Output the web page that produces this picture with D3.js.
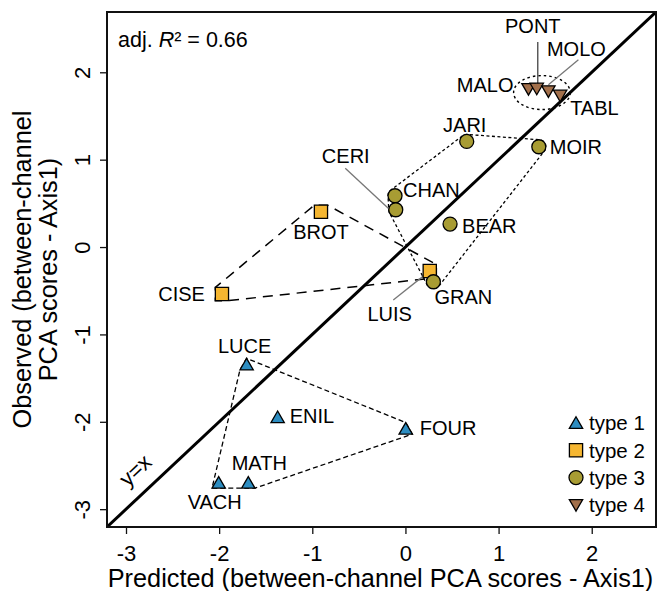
<!DOCTYPE html>
<html>
<head>
<meta charset="utf-8">
<script src="https://cdn.jsdelivr.net/npm/d3@7"></script>
<style>
  html, body { margin: 0; padding: 0; background: #fff; }
  svg { display: block; font-family: "Liberation Sans", Arial, sans-serif; }
</style>
</head>
<body>
<svg id="chart" width="657" height="591"></svg>
<script>
// ---------------- data ----------------
const sites     = ["LUCE","ENIL","FOUR","MATH","VACH","BROT","CISE","LUIS","JARI","MOIR","CHAN","CERI","BEAR","GRAN","MALO","PONT","MOLO","TABL"];
const predicted = [-1.705,-1.372, 0.003,-1.687,-2.005,-0.907,-1.970, 0.261, 0.658, 1.432,-0.112,-0.104, 0.479, 0.300, 1.321, 1.410, 1.535, 1.661];
const observed  = [-1.362,-1.965,-2.097,-2.715,-2.715, 0.404,-0.538,-0.275, 1.209, 1.148, 0.587, 0.427, 0.263,-0.397, 1.826, 1.831, 1.801, 1.751];
const siteType  = [1,1,1,1,1, 2,2,2, 3,3,3,3,3,3, 4,4,4,4];
const typeNames = ["type 1","type 2","type 3","type 4"];
const xTicks = [-3,-2,-1,0,1,2];
const yTicks = [-3,-2,-1,0,1,2];
const axisDomain = [-3.204, 2.69];
const adjR2 = "0.66";
const xTitle = "Predicted (between-channel PCA scores - Axis1)";
const yTitleLines = ["Observed (between-channel", "PCA scores - Axis1)"];

// ---------------- styles / layout ----------------
const typeFill = {1:"#2D8DC1", 2:"#F5B631", 3:"#A89C33", 4:"#A3704B"};
const hullDash = {1:"5,3", 2:"10,7", 3:"3,2.5"};
const hullWidth = {1:1.3, 2:1.5, 3:1.3};
// label placement: [dx, dy, anchor] in px relative to the marker
const labelPos = {
  LUCE:[-2,-20,"middle"], ENIL:[12,-2.5,"start"], FOUR:[14,-2,"start"], MATH:[11,-21,"middle"], VACH:[-4,18,"middle"],
  BROT:[0,20.5,"middle"], CISE:[-17,0,"end"], LUIS:[-40,43,"middle"],
  JARI:[-2,-16.5,"middle"], MOIR:[11,0,"start"], CHAN:[8,-5.5,"start"], CERI:[-50,-54,"middle"], BEAR:[12,1.5,"start"], GRAN:[1,15.5,"start"],
  MALO:[-15,-2.5,"end"], PONT:[-4,-61,"middle"], MOLO:[28,-40.5,"middle"], TABL:[10,13.5,"start"]
};
// leader segments [x1,y1,x2,y2,color] relative to the marker
const leaders = {
  PONT:[1,-45,1,-3,"#444"], MOLO:[30,-30,0,-5,"#777"],
  CERI:[-50.5,-41.5,-7.5,-1.5,"#777"], LUIS:[-36.5,29,-3,2.3,"#777"]
};

const W = 657, H = 591;
const L = 107, R = 656, T = 12, B = 527;
const svg = d3.select("#chart");

const x = d3.scaleLinear().domain(axisDomain).range([L, R]);
const y = d3.scaleLinear().domain(axisDomain).range([B, T]);

const data = sites.map((s,i)=>({name:s, px:predicted[i], ob:observed[i], type:siteType[i]}));

// marker geometry
const TR = 7.7, SQ = 6.6, CR = 7;
function outline(type, cx, cy){
  if(type===1) return [[cx,cy-TR],[cx+0.866*TR,cy+TR/2],[cx-0.866*TR,cy+TR/2]];
  if(type===4) return [[cx,cy+TR],[cx+0.866*TR,cy-TR/2],[cx-0.866*TR,cy-TR/2]];
  if(type===2) return [[cx-SQ,cy-SQ],[cx+SQ,cy-SQ],[cx+SQ,cy+SQ],[cx-SQ,cy+SQ]];
  const pts=[]; for(let k=0;k<32;k++){const a=k/32*2*Math.PI; pts.push([cx+CR*Math.cos(a), cy+CR*Math.sin(a)]);} return pts;
}
function markerPath(type, cx, cy){
  if(type===3) return null;
  const p = outline(type,cx,cy);
  return "M"+p.map(d=>d.join(",")).join("L")+"Z";
}

// clip for plot region
svg.append("defs").append("clipPath").attr("id","clip")
  .append("rect").attr("x",L).attr("y",T).attr("width",R-L).attr("height",B-T);

// y = x line
svg.append("line")
  .attr("clip-path","url(#clip)")
  .attr("x1",x(axisDomain[0])).attr("y1",y(axisDomain[0]))
  .attr("x2",x(axisDomain[1])).attr("y2",y(axisDomain[1]))
  .attr("stroke","#000").attr("stroke-width",3);

// hulls
[1,2,3].forEach(t=>{
  const pts = [];
  data.filter(d=>d.type===t).forEach(d=>outline(t, x(d.px), y(d.ob)).forEach(p=>pts.push(p)));
  const hull = d3.polygonHull(pts);
  svg.append("path")
    .attr("d","M"+hull.map(p=>p.join(",")).join("L")+"Z")
    .attr("fill","none").attr("stroke","#000")
    .attr("stroke-width",hullWidth[t]).attr("stroke-dasharray",hullDash[t]);
});
// type 4 ellipse
{
  const g4 = data.filter(d=>d.type===4);
  const xs = g4.map(d=>x(d.px)), ys = g4.map(d=>y(d.ob));
  const cx = d3.mean(xs) - 1.5, cy = d3.mean(ys) + 3;
  const rx = (d3.max(xs)-d3.min(xs))/2 + 12.5, ry = (d3.max(ys)-d3.min(ys))/2 + 13.5;
  svg.append("ellipse").attr("cx",cx).attr("cy",cy).attr("rx",rx).attr("ry",ry)
    .attr("fill","none").attr("stroke","#000").attr("stroke-width",1.4).attr("stroke-dasharray","2.5,3");
}

// leaders
data.forEach(d=>{
  const l = leaders[d.name]; if(!l) return;
  const cx = x(d.px), cy = y(d.ob);
  svg.append("line").attr("x1",cx+l[0]).attr("y1",cy+l[1]).attr("x2",cx+l[2]).attr("y2",cy+l[3])
    .attr("stroke",l[4]).attr("stroke-width",1.3);
});

// markers
function drawMarker(sel, type, cx, cy){
  if(type===3){
    sel.append("circle").attr("cx",cx).attr("cy",cy).attr("r",CR)
      .attr("fill",typeFill[3]).attr("stroke","#000").attr("stroke-width",1.3);
  } else {
    sel.append("path").attr("d",markerPath(type,cx,cy))
      .attr("fill",typeFill[type]).attr("stroke","#000").attr("stroke-width",1.3).attr("stroke-linejoin","miter");
  }
}
data.forEach(d=>drawMarker(svg, d.type, x(d.px), y(d.ob)));

// point labels
data.forEach(d=>{
  const lp = labelPos[d.name];
  svg.append("text").attr("x",x(d.px)+lp[0]).attr("y",y(d.ob)+lp[1])
    .attr("dy","0.36em").attr("text-anchor",lp[2])
    .attr("font-size",20).attr("fill","#000").text(d.name);
});

// box
svg.append("rect").attr("x",L).attr("y",T).attr("width",R-L).attr("height",B-T)
  .attr("fill","none").attr("stroke","#111").attr("stroke-width",2);

// axes
const xAxis = svg.append("g").attr("transform",`translate(0,${B})`)
  .call(d3.axisBottom(x).tickValues(xTicks).tickSize(7).tickFormat(d3.format("d")));
xAxis.select(".domain").remove();
xAxis.selectAll("line").attr("stroke","#111").attr("stroke-width",1.3);
xAxis.selectAll("text").attr("y",26).attr("dy","0.36em").attr("font-size",22)
  .attr("font-family","Liberation Sans, Arial, sans-serif").attr("fill","#000")
  .text(d=>d<0 ? "-"+Math.abs(d) : d);

const yAxis = svg.append("g").attr("transform",`translate(${L},0)`)
  .call(d3.axisLeft(y).tickValues(yTicks).tickSize(7));
yAxis.select(".domain").remove();
yAxis.selectAll("line").attr("stroke","#111").attr("stroke-width",1.3);
yAxis.selectAll("text").attr("x",null).attr("y",null).attr("dy","0.36em")
  .attr("transform","translate(-25,0) rotate(-90)").attr("text-anchor","middle")
  .attr("font-size",22).attr("font-family","Liberation Sans, Arial, sans-serif").attr("fill","#000")
  .text(d=>d<0 ? "-"+Math.abs(d) : d);

// axis titles
svg.append("text").attr("x",(L+R)/2 - 1).attr("y",578).attr("dy","0.36em")
  .attr("text-anchor","middle").attr("font-size",25.3).attr("fill","#000").text(xTitle);
yTitleLines.forEach((t,i)=>{
  svg.append("text").attr("transform",`translate(${22+i*26},${(T+B)/2}) rotate(-90)`)
    .attr("dy","0.36em").attr("text-anchor","middle").attr("font-size",25.3).attr("fill","#000").text(t);
});

// adj R2
const r2 = svg.append("text").attr("x",118).attr("y",47).attr("font-size",21.5).attr("fill","#000")
  .attr("xml:space","preserve").style("white-space","pre");
r2.append("tspan").text("adj. ");
r2.append("tspan").attr("font-style","italic").text("R");
r2.append("tspan").text("\u00B2");
r2.append("tspan").attr("dx",6).text("=");
r2.append("tspan").attr("dx",6).text(adjR2);

// y=x label
{
  const ang = Math.atan2(y(0)-y(1), x(1)-x(0)) * 180/Math.PI;
  svg.append("text").attr("transform",`translate(135,470) rotate(${-ang})`)
    .attr("dy","0.36em").attr("text-anchor","middle").attr("font-size",22).attr("fill","#000").text("y=x");
}

// legend
typeNames.forEach((t,i)=>{
  const ly = 423 + i*27.3;
  drawMarker(svg, i+1, 576, ly + (i===0? 1.5 : i===3 ? -1.5 : 0));
  svg.append("text").attr("x",589).attr("y",ly).attr("dy","0.36em")
    .attr("font-size",20.5).attr("fill","#000").text(t);
});
</script>
</body>
</html>
